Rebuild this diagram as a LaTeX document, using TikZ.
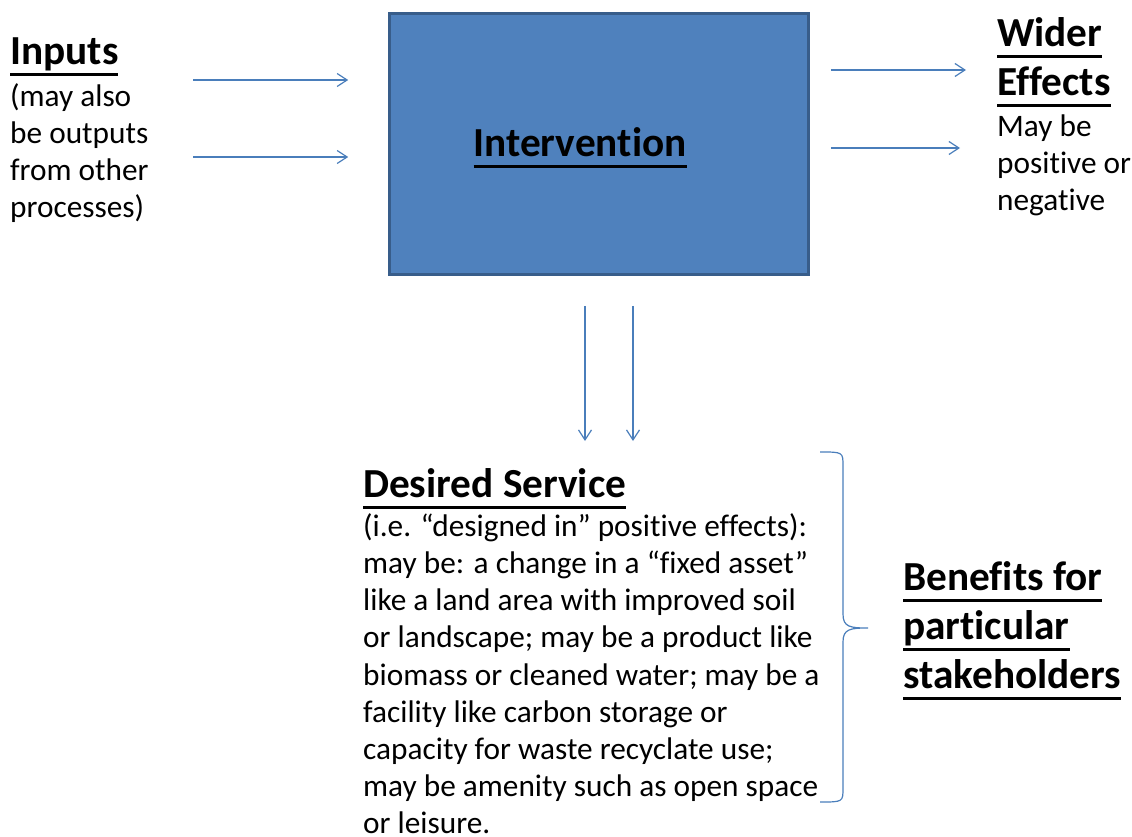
\documentclass[tikz,border=0pt]{standalone}
\usepackage{fontspec}
\setmainfont{Carlito}[Ligatures=NoCommon]
\usetikzlibrary{arrows.meta}
\definecolor{boxblue}{HTML}{4F81BD}
\definecolor{boxedge}{HTML}{385D8A}
\definecolor{linkblue}{HTML}{4A7EBB}
\newcommand{\headfont}{\fontsize{41.3}{49}\selectfont\bfseries}
\newcommand{\bodyfont}{\fontsize{31.3}{37.2}\selectfont}
\newsavebox{\ulbox}
\newcommand{\headul}[1]{\sbox{\ulbox}{#1}\rlap{\rule[-11.3pt]{\wd\ulbox}{2.8pt}}\usebox{\ulbox}}

\begin{document}
\begin{tikzpicture}[x=1pt,y=-1pt,
	head/.style={anchor=north west,inner sep=0pt,align=left,font=\headfont},
	body/.style={anchor=north west,inner sep=0pt,align=left,font=\bodyfont},
	interv/.style={draw=boxedge,line width=2.6pt,fill=boxblue,
		minimum width=419pt,minimum height=261pt,inner sep=0pt},
	flow/.style={draw=linkblue,line width=1.2pt,-{Straight Barb[length=10pt,width=13pt]}}]
\useasboundingbox (0,0) rectangle (1132,837);

\node[interv] (box) at (599,144) {};
\node[font=\headfont,inner sep=0pt,anchor=base] (boxlabel) at (580,157) {\headul{Intervention}};

\node[head] (inputs) at (10,30) {\strut\headul{Inputs}};
\node[body] (inputsnote) at (10,80) {\strut(may also\\be outputs\\from other\\processes)};

\node[head] (wider) at (997,12) {\strut\headul{Wider}\\\headul{Effects}};
\node[body] (widernote) at (997,110) {\strut May be\\positive or\\negative};

\node[head] (service) at (363,463) {\strut\headul{Desired Service}};
\node[body] (servicenote) at (363,510) {\strut(i.e. “designed in” positive effects):\\
	may be: a change in a “fixed asset”\\
	like a land area with improved soil\\
	or landscape; may be a product like\\
	biomass or cleaned water; may be a\\
	facility like carbon storage or\\
	capacity for waste recyclate use;\\
	may be amenity such as open space\\
	or leisure.};

\node[head] (benefits) at (903,556) {\strut\headul{Benefits for}\\\headul{particular}\\\headul{stakeholders}};

% arrows in and out of the intervention
\coordinate (in1) at (193,80);
\coordinate (in2) at (193,157);
\coordinate (out1) at (966,70);
\coordinate (out2) at (960,148);
\coordinate (dn1) at (585,441);
\coordinate (dn2) at (633,441);
\draw[flow,shorten >=40pt] (in1) -- (in1 -| box.west);
\draw[flow,shorten >=40pt] (in2) -- (in2 -| box.west);
\draw[flow,shorten <=21pt] (box.east |- out1) -- (out1);
\draw[flow,shorten <=21pt] (box.east |- out2) -- (out2);
\draw[flow,shorten <=30pt] (box.south -| dn1) -- (dn1);
\draw[flow,shorten <=30pt] (box.south -| dn2) -- (dn2);

% brace
\draw[linkblue,line width=1.2pt] (820,452) .. controls (843,452) .. (843,466)
	-- (843,614) .. controls (843,627) and (850,628) .. (868,628)
	.. controls (850,628) and (843,629) .. (843,642)
	-- (843,788) .. controls (843,802) .. (820,802);
\end{tikzpicture}
\end{document}
